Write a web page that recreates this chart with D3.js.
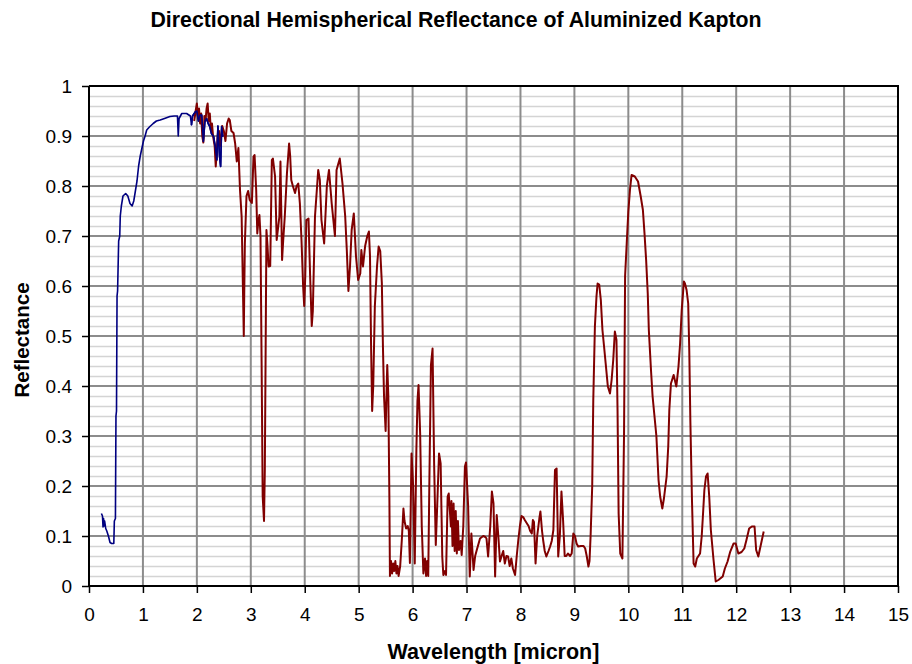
<!DOCTYPE html>
<html><head><meta charset="utf-8">
<script src="https://cdn.jsdelivr.net/npm/d3@7"></script>
<style>html,body{margin:0;padding:0;background:#fff;}svg{display:block;}</style>
</head><body>
<svg id="chart" width="912" height="664"></svg>
<script>
const titleText = "Directional Hemispherical Reflectance of Aluminized Kapton";
const xTitle = "Wavelength [micron]";
const yTitle = "Reflectance";
const xTicks = [0,1,2,3,4,5,6,7,8,9,10,11,12,13,14,15];
const yTicks = [0,0.1,0.2,0.3,0.4,0.5,0.6,0.7,0.8,0.9,1];

// Blue series (short-wave measurement)
const blueWavelength = [0.23,0.25,0.26,0.27,0.28,0.29,0.31,0.33,0.36,0.39,0.42,0.46,0.47,0.49,0.50,0.51,0.52,0.53,0.55,0.57,0.58,0.60,0.63,0.68,0.72,0.76,0.80,0.83,0.86,0.89,0.92,0.95,0.98,1.01,1.04,1.07,1.12,1.19,1.25,1.32,1.40,1.50,1.58,1.64,1.655,1.67,1.72,1.81,1.88,1.90,1.92,1.97,2.00,2.03,2.06,2.09,2.12,2.15,2.18,2.21,2.24,2.27,2.31,2.34,2.37,2.39,2.42,2.44,2.46,2.48,2.49];
const blueReflectance = [0.145,0.14,0.118,0.135,0.12,0.13,0.115,0.11,0.10,0.087,0.085,0.085,0.13,0.135,0.34,0.35,0.58,0.59,0.69,0.70,0.74,0.76,0.78,0.785,0.78,0.765,0.76,0.77,0.79,0.81,0.84,0.86,0.875,0.89,0.90,0.912,0.918,0.925,0.93,0.932,0.935,0.939,0.94,0.94,0.90,0.935,0.945,0.945,0.94,0.922,0.94,0.948,0.95,0.93,0.942,0.942,0.889,0.93,0.935,0.925,0.919,0.905,0.899,0.879,0.852,0.92,0.86,0.839,0.919,0.90,0.899];

// Red series (infrared measurement)
const redWavelength = [1.95,1.97,2.00,2.02,2.04,2.06,2.08,2.10,2.12,2.14,2.16,2.18,2.20,2.22,2.24,2.26,2.28,2.30,2.33,2.35,2.37,2.39,2.41,2.43,2.45,2.47,2.50,2.53,2.56,2.59,2.61,2.64,2.68,2.71,2.74,2.77,2.80,2.83,2.85,2.87,2.88,2.89,2.92,2.95,2.98,3.02,3.05,3.07,3.10,3.12,3.14,3.16,3.18,3.20,3.22,3.245,3.26,3.28,3.29,3.31,3.33,3.36,3.39,3.41,3.45,3.48,3.51,3.53,3.55,3.58,3.60,3.63,3.67,3.71,3.73,3.75,3.78,3.82,3.85,3.88,3.91,3.94,3.97,3.99,4.01,4.03,4.07,4.10,4.13,4.15,4.19,4.25,4.28,4.31,4.36,4.41,4.45,4.50,4.56,4.59,4.65,4.70,4.75,4.78,4.81,4.84,4.87,4.91,4.95,4.99,5.03,5.05,5.08,5.12,5.16,5.19,5.21,5.23,5.25,5.27,5.30,5.34,5.37,5.40,5.43,5.45,5.47,5.50,5.52,5.53,5.55,5.57,5.58,5.60,5.62,5.64,5.66,5.68,5.70,5.72,5.74,5.77,5.80,5.83,5.85,5.88,5.91,5.93,5.95,5.98,6.01,6.04,6.07,6.09,6.11,6.14,6.17,6.20,6.23,6.25,6.27,6.29,6.31,6.34,6.37,6.40,6.43,6.46,6.49,6.52,6.55,6.57,6.60,6.62,6.65,6.67,6.71,6.72,6.74,6.76,6.78,6.80,6.82,6.84,6.86,6.89,6.91,6.94,6.97,6.99,7.03,7.06,7.09,7.13,7.16,7.19,7.25,7.31,7.35,7.37,7.40,7.44,7.47,7.50,7.53,7.56,7.59,7.62,7.65,7.68,7.71,7.74,7.77,7.80,7.83,7.86,7.90,7.93,7.96,7.99,8.02,8.05,8.08,8.12,8.15,8.18,8.21,8.23,8.25,8.28,8.31,8.35,8.37,8.40,8.42,8.45,8.48,8.52,8.55,8.58,8.61,8.64,8.67,8.70,8.73,8.76,8.79,8.82,8.85,8.88,8.92,8.95,8.98,9.01,9.04,9.07,9.12,9.17,9.20,9.23,9.26,9.28,9.30,9.33,9.35,9.38,9.41,9.43,9.46,9.49,9.52,9.55,9.58,9.62,9.66,9.69,9.72,9.75,9.78,9.80,9.82,9.85,9.89,9.92,9.94,9.97,10.00,10.03,10.06,10.12,10.18,10.23,10.27,10.30,10.33,10.36,10.38,10.42,10.45,10.48,10.52,10.56,10.59,10.63,10.66,10.71,10.74,10.76,10.79,10.84,10.89,10.93,10.96,10.99,11.03,11.05,11.08,11.11,11.13,11.15,11.18,11.21,11.24,11.27,11.33,11.36,11.38,11.41,11.44,11.47,11.50,11.53,11.58,11.62,11.67,11.75,11.79,11.84,11.89,11.95,11.99,12.04,12.10,12.15,12.19,12.24,12.29,12.34,12.37,12.41,12.45,12.49,12.51];
const redReflectance = [0.93,0.945,0.965,0.935,0.955,0.925,0.945,0.90,0.887,0.94,0.93,0.955,0.965,0.93,0.945,0.91,0.925,0.90,0.88,0.839,0.87,0.905,0.91,0.88,0.90,0.92,0.91,0.89,0.925,0.935,0.932,0.91,0.906,0.885,0.849,0.876,0.792,0.739,0.62,0.50,0.60,0.685,0.78,0.79,0.772,0.766,0.859,0.862,0.792,0.705,0.73,0.742,0.699,0.45,0.18,0.13,0.232,0.55,0.712,0.68,0.639,0.64,0.852,0.855,0.819,0.692,0.72,0.739,0.849,0.652,0.69,0.739,0.825,0.885,0.86,0.812,0.80,0.786,0.80,0.805,0.765,0.692,0.60,0.56,0.62,0.732,0.735,0.62,0.52,0.55,0.739,0.832,0.812,0.732,0.685,0.80,0.832,0.765,0.70,0.832,0.855,0.805,0.74,0.672,0.59,0.64,0.712,0.745,0.66,0.612,0.625,0.672,0.639,0.68,0.70,0.709,0.66,0.48,0.35,0.40,0.56,0.639,0.679,0.67,0.605,0.479,0.38,0.31,0.40,0.442,0.38,0.17,0.02,0.05,0.025,0.045,0.03,0.05,0.025,0.04,0.02,0.04,0.092,0.155,0.13,0.115,0.12,0.11,0.046,0.265,0.20,0.045,0.272,0.37,0.402,0.305,0.119,0.025,0.055,0.02,0.05,0.02,0.20,0.442,0.475,0.239,0.082,0.172,0.265,0.245,0.059,0.022,0.03,0.022,0.179,0.185,0.119,0.17,0.08,0.165,0.07,0.15,0.065,0.13,0.072,0.09,0.062,0.12,0.239,0.247,0.159,0.019,0.105,0.032,0.06,0.072,0.095,0.10,0.098,0.095,0.059,0.12,0.189,0.165,0.019,0.142,0.099,0.049,0.06,0.07,0.045,0.06,0.059,0.04,0.055,0.035,0.022,0.059,0.092,0.12,0.14,0.138,0.132,0.125,0.12,0.11,0.105,0.132,0.128,0.045,0.10,0.135,0.149,0.11,0.092,0.07,0.059,0.07,0.079,0.09,0.112,0.232,0.235,0.059,0.10,0.189,0.132,0.06,0.06,0.065,0.06,0.065,0.105,0.10,0.085,0.079,0.08,0.08,0.075,0.059,0.039,0.05,0.099,0.199,0.372,0.519,0.58,0.605,0.603,0.572,0.512,0.479,0.445,0.399,0.385,0.412,0.452,0.509,0.492,0.35,0.145,0.065,0.055,0.3,0.62,0.685,0.749,0.792,0.822,0.819,0.809,0.779,0.752,0.705,0.652,0.585,0.512,0.432,0.379,0.345,0.30,0.212,0.179,0.155,0.175,0.219,0.279,0.352,0.405,0.422,0.399,0.439,0.485,0.552,0.609,0.605,0.592,0.565,0.47,0.33,0.172,0.045,0.039,0.055,0.065,0.099,0.135,0.192,0.219,0.225,0.179,0.112,0.052,0.009,0.012,0.019,0.035,0.049,0.069,0.085,0.085,0.065,0.068,0.075,0.092,0.115,0.119,0.119,0.072,0.059,0.079,0.099,0.109];

const svg = d3.select("#chart");
const W = 912, H = 664;
const plot = {left: 89, top: 86, right: 898, bottom: 586};
const x = d3.scaleLinear().domain([0, 15]).range([plot.left, plot.right]);
const y = d3.scaleLinear().domain([0, 1]).range([plot.bottom, plot.top]);
const font = "'Liberation Sans', Arial, sans-serif";

svg.append("rect").attr("width", W).attr("height", H).attr("fill", "#fff");

// minor horizontal gridlines every 0.02
const minor = d3.range(0, 51).map(i => i / 50).filter(v => Math.round(v * 50) % 5 !== 0);
svg.append("g").selectAll("line").data(minor).join("line")
  .attr("x1", plot.left).attr("x2", plot.right)
  .attr("y1", d => Math.round(y(d)) + 0.5).attr("y2", d => Math.round(y(d)) + 0.5)
  .attr("stroke", "#d4d4d4").attr("stroke-width", 1.5);

// major horizontal gridlines
svg.append("g").selectAll("line").data(yTicks.slice(1, -1)).join("line")
  .attr("x1", plot.left).attr("x2", plot.right)
  .attr("y1", d => y(d)).attr("y2", d => y(d))
  .attr("stroke", "#8c8c8c").attr("stroke-width", 2);

// vertical gridlines
svg.append("g").selectAll("line").data(xTicks.slice(1, -1)).join("line")
  .attr("y1", plot.top).attr("y2", plot.bottom)
  .attr("x1", d => x(d)).attr("x2", d => x(d))
  .attr("stroke", "#8c8c8c").attr("stroke-width", 2);

// plot border (top, right)
svg.append("path")
  .attr("d", `M${plot.left},${plot.top}H${plot.right}V${plot.bottom}`)
  .attr("fill", "none").attr("stroke", "#000").attr("stroke-width", 2);

// series
const line = d3.line().x(d => x(d[0])).y(d => y(d[1]));
const blueData = blueWavelength.map((w, i) => [w, blueReflectance[i]]);
const redData = redWavelength.map((w, i) => [w, redReflectance[i]]);
svg.append("path").datum(blueData).attr("d", line)
  .attr("fill", "none").attr("stroke", "#000080").attr("stroke-width", 1.6).attr("stroke-linejoin", "round");
svg.append("path").datum(redData).attr("d", line)
  .attr("fill", "none").attr("stroke", "#800000").attr("stroke-width", 2).attr("stroke-linejoin", "round");
// blue drawn on top in overlap region
svg.append("path").datum(blueData.filter(d => d[0] >= 1.9)).attr("d", line)
  .attr("fill", "none").attr("stroke", "#000080").attr("stroke-width", 1.6).attr("stroke-linejoin", "round");

// axes
const xAxis = d3.axisBottom(x).tickValues(xTicks).tickSize(7).tickPadding(15).tickFormat(d3.format("d"));
const gx = svg.append("g").attr("transform", `translate(0,${plot.bottom})`).call(xAxis);
gx.select(".domain").attr("stroke", "#000").attr("stroke-width", 2).attr("d", `M${plot.left},0H${plot.right}`);
gx.selectAll(".tick line").attr("stroke", "#000").attr("stroke-width", 1.5);
gx.selectAll("text").attr("font-family", font).attr("font-size", 19).attr("fill", "#000");

const yAxis = d3.axisLeft(y).tickValues(yTicks).tickSize(7).tickPadding(10).tickFormat(d => d === 0 ? "0" : d === 1 ? "1" : d3.format(".1f")(d));
const gy = svg.append("g").attr("transform", `translate(${plot.left},0)`).call(yAxis);
gy.select(".domain").attr("stroke", "#000").attr("stroke-width", 2).attr("d", `M0,${plot.top}V${plot.bottom}`);
gy.selectAll(".tick line").attr("stroke", "#000").attr("stroke-width", 1.5);
gy.selectAll("text").attr("font-family", font).attr("font-size", 19).attr("fill", "#000");

// titles
svg.append("text").attr("x", 456).attr("y", 27).attr("text-anchor", "middle")
  .attr("font-family", font).attr("font-weight", "bold").attr("font-size", 21.3).text(titleText);
svg.append("text").attr("x", (plot.left + plot.right) / 2).attr("y", 659).attr("text-anchor", "middle")
  .attr("font-family", font).attr("font-weight", "bold").attr("font-size", 21.5).text(xTitle);
svg.append("text").attr("transform", "translate(29,340) rotate(-90)").attr("text-anchor", "middle")
  .attr("font-family", font).attr("font-weight", "bold").attr("font-size", 20.5).text(yTitle);
</script>
</body></html>
